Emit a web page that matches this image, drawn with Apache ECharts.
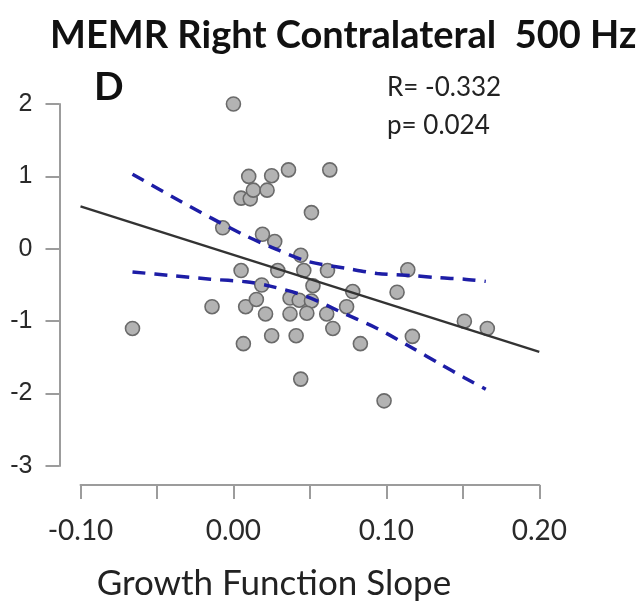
<!DOCTYPE html>
<html>
<head>
<meta charset="utf-8">
<script src="https://cdn.jsdelivr.net/npm/echarts/dist/echarts.min.js"></script>
<style>
html,body{margin:0;padding:0;background:#ffffff;}
#chart{width:639px;height:606px;}
</style>
</head>
<body>
<div id="chart"></div>
<script>
// ---- data ----
const slopeX = [-0.066, -0.014, -0.007, 0.000, 0.005, 0.005, 0.0065, 0.008, 0.010, 0.011,
                0.013, 0.015, 0.0185, 0.019, 0.021, 0.022, 0.025, 0.025, 0.027, 0.029,
                0.036, 0.063, 0.051, 0.044, 0.046, 0.0615, 0.052, 0.078, 0.037, 0.043,
                0.051, 0.074, 0.037, 0.048, 0.061, 0.065, 0.041, 0.083, 0.044, 0.0985,
                0.114, 0.107, 0.117, 0.151, 0.166];
const memrY  = [-1.10, -0.80, 0.29, 2.00, 0.70, -0.30, -1.31, -0.80, 1.00, 0.69,
                0.81, -0.70, -0.50, 0.20, -0.90, 0.81, 1.01, -1.20, 0.10, -0.30,
                1.09, 1.09, 0.50, -0.09, -0.30, -0.30, -0.51, -0.59, -0.68, -0.71,
                -0.72, -0.80, -0.90, -0.89, -0.90, -1.10, -1.20, -1.31, -1.80, -2.10,
                -0.29, -0.60, -1.21, -1.00, -1.10];
const fitX = [-0.10, 0.20];
const fitY = [0.587, -1.424];
const ciX     = [-0.066, -0.040, -0.015, 0.008, 0.024, 0.048, 0.074, 0.094, 0.117, 0.135, 0.151, 0.165];
const ciUpper = [1.03, 0.72, 0.43, 0.18, 0.03, -0.17, -0.27, -0.34, -0.37, -0.40, -0.42, -0.45];
const ciLower = [-0.32, -0.37, -0.42, -0.455, -0.515, -0.66, -0.91, -1.10, -1.37, -1.59, -1.78, -1.94];
const xTickLabels = ['-0.10', '0.00', '0.10', '0.20'];
const yTickLabels = ['-3', '-2', '-1', '0', '1', '2'];
const titleText = 'MEMR Right Contralateral  500 Hz';
const panelLetter = 'D';
const statR = 'R= -0.332';
const statP = 'p= 0.024';
const xName = 'Growth Function Slope';

// ---- build ----
const scatterData = slopeX.map((x, i) => [x, memrY[i]]);
const fitData = fitX.map((x, i) => [x, fitY[i]]);
const upData = ciX.map((x, i) => [x, ciUpper[i]]);
const lowData = ciX.map((x, i) => [x, ciLower[i]]);

const axisGrey = '#9c9c9c';
const chart = echarts.init(document.getElementById('chart'), null, {renderer: 'canvas'});
const dashStyle = {color: '#1d1da6', width: 3.5, type: [13, 9], cap: 'butt'};

chart.setOption({
  animation: false,
  backgroundColor: '#ffffff',
  title: {
    text: titleText,
    left: 45,
    top: 12,
    textStyle: {fontFamily: 'Lato', fontWeight: 'bold', fontSize: 38, color: '#111111'}
  },
  grid: {left: 80.5, right: 99.7, top: 104, bottom: 139, containLabel: false},
  xAxis: {
    type: 'value',
    min: -0.1, max: 0.2, interval: 0.05,
    offset: 19,
    axisLine: {show: true, onZero: false, lineStyle: {color: axisGrey, width: 2}},
    axisTick: {show: true, length: 14, lineStyle: {color: axisGrey, width: 2}},
    splitLine: {show: false},
    axisLabel: {
      margin: 32,
      fontFamily: 'Lato', fontSize: 28, color: '#2a2a2a',
      formatter: function (v) {
        const k = Math.round(v * 20);
        return (k % 2 === 0) ? xTickLabels[(k + 2) / 2] : '';
      }
    },
    name: xName,
    nameLocation: 'middle',
    nameGap: 81,
    nameTextStyle: {fontFamily: 'Lato', fontSize: 35, color: '#222222', padding: [0, 72, 0, 0]}
  },
  yAxis: {
    type: 'value',
    min: -3, max: 2, interval: 1,
    offset: 21,
    axisLine: {show: true, onZero: false, lineStyle: {color: axisGrey, width: 2}},
    axisTick: {show: true, length: 14, lineStyle: {color: axisGrey, width: 2}},
    splitLine: {show: false},
    axisLabel: {
      margin: 27,
      fontFamily: 'Liberation Sans', fontSize: 25, color: '#2a2a2a',
      formatter: function (v) { return yTickLabels[Math.round(v) + 3]; }
    }
  },
  graphic: [
    {type: 'text', left: 94, top: 68, style: {text: panelLetter, font: 'bold 39px Lato', fill: '#111111'}},
    {type: 'text', left: 387, top: 75, style: {text: statR, font: '26px Lato', fill: '#222222'}},
    {type: 'text', left: 387, top: 113, style: {text: statP, font: '26px Lato', fill: '#222222'}}
  ],
  series: [
    {
      type: 'scatter', data: scatterData, symbol: 'circle', symbolSize: 14, z: 2,
      itemStyle: {color: '#b3b3b3', borderColor: '#6a6a6a', borderWidth: 1.6, opacity: 1}
    },
    {
      type: 'line', data: fitData, symbol: 'none', z: 3, silent: true,
      lineStyle: {color: '#333333', width: 2.3}
    },
    {
      type: 'line', data: upData, symbol: 'none', smooth: 0.3, z: 4, silent: true,
      lineStyle: dashStyle
    },
    {
      type: 'line', data: lowData, symbol: 'none', smooth: 0.3, z: 4, silent: true,
      lineStyle: dashStyle
    }
  ]
});
</script>
</body>
</html>
